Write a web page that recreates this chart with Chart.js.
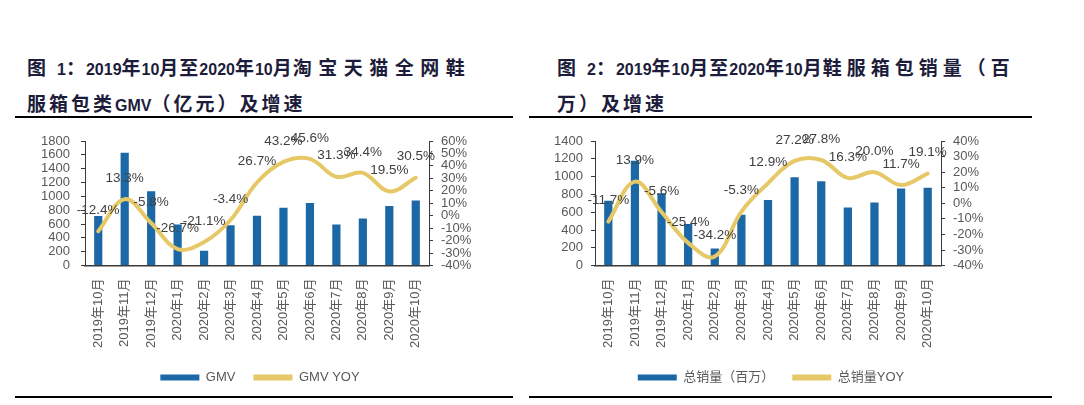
<!DOCTYPE html>
<html>
<head>
<meta charset="utf-8">
<script src="https://cdn.jsdelivr.net/npm/chart.js@4/dist/chart.umd.min.js"></script>
<style>
  html, body { margin:0; padding:0; background:#fff; }
  body { width:1084px; height:405px; position:relative; overflow:hidden; }
  .title { position:absolute; font-family:'Liberation Sans','Noto Sans CJK SC',sans-serif; font-weight:bold; font-size:16px; line-height:33px; color:#1d1d3b; white-space:nowrap; }
  .title .c { font-family:'Noto Sans CJK SC',sans-serif; font-size:19px; letter-spacing:3px; }
  .title .h { letter-spacing:1px; }
  .title .g { display:inline-block; width:10px; }
  .rule { position:absolute; height:1.5px; background:#000; }
  canvas { position:absolute; }
</style>
</head>
<body>
<div class="title" style="left:27px; top:50px;">
  <div><span class="c h">图</span><span class="g"></span>1<span class="c h">：</span>2019<span class="c h">年</span>10<span class="c h">月至</span>2020<span class="c h">年</span>10<span class="c h">月</span><span class="c" style="letter-spacing:6.5px;">淘宝天猫全网鞋</span></div>
  <div><span class="c">服箱包类</span>GMV<span class="c">（亿元）及增速</span></div>
</div>
<div class="title" style="left:557px; top:50px;">
  <div><span class="c h">图</span><span class="g"></span>2<span class="c h">：</span>2019<span class="c h">年</span>10<span class="c h">月至</span>2020<span class="c h">年</span>10<span class="c h">月</span><span class="c" style="letter-spacing:5px;">鞋服箱包销量（百</span></div>
  <div><span class="c">万）及增速</span></div>
</div>
<div class="rule" style="left:15px; width:498px; top:116px;"></div>
<div class="rule" style="left:529px; width:503px; top:116px;"></div>
<div class="rule" style="left:15px; width:498px; top:396px;"></div>
<div class="rule" style="left:529px; width:523px; top:396px;"></div>

<canvas id="c1" style="left:0px; top:120px;" width="520" height="274"></canvas>
<canvas id="c2" style="left:540px; top:120px;" width="462" height="274"></canvas>

<script>
const categories = ['2019年10月','2019年11月','2019年12月','2020年1月','2020年2月','2020年3月','2020年4月','2020年5月','2020年6月','2020年7月','2020年8月','2020年9月','2020年10月'];
const gmv = [715,1630,1075,594,214,584,720,837,905,594,681,861,939];
const gmvYoy = [-12.4,13.3,-5.8,-26.7,-21.1,-3.4,26.7,43.2,45.6,31.3,34.4,19.5,30.5];
const sales = [729,1178,813,468,192,572,737,994,948,652,710,867,875];
const salesYoy = [-11.7,13.9,-5.6,-25.4,-34.2,-5.3,12.9,27.2,27.8,16.3,20.0,11.7,19.1];
const gmvAxis = [0, 1800, 200];
const gmvYoyAxis = [-40, 60, 10];
const salesAxis = [0, 1400, 200];
const salesYoyAxis = [-40, 40, 10];
const legend1 = ['GMV', 'GMV YOY'];
const legend2 = ['总销量（百万）', '总销量YOY'];

const BAR = '#1C68A6', LINE = '#E6C867', TXT = '#595959', AX = '#3a3a3a';
const FAM = "'Liberation Sans','Noto Sans CJK SC',sans-serif";

const labelPlugin = {
  id: 'yoyLabels',
  afterDatasetsDraw(chart) {
    const ctx = chart.ctx;
    const meta = chart.getDatasetMeta(1);
    const data = chart.data.datasets[1].data;
    ctx.save();
    ctx.font = '13.5px ' + FAM;
    ctx.fillStyle = '#404040';
    ctx.textAlign = 'center';
    ctx.textBaseline = 'middle';
    meta.data.forEach((pt, i) => {
      ctx.fillText(data[i].toFixed(1) + '%', pt.x, pt.y - 21);
    });
    ctx.restore();
  }
};

function makeChart(id, bars, yoy, barAx, yoyAx, names, wl, wr, padL) {
  new Chart(document.getElementById(id), {
    data: {
      labels: categories,
      datasets: [
        { type:'bar', label:names[0], data:bars, backgroundColor:BAR, yAxisID:'y', order:1,
          barPercentage:0.31, categoryPercentage:1 },
        { type:'line', label:names[1], data:yoy, borderColor:LINE, backgroundColor:LINE, borderWidth:4,
          pointRadius:0, tension:0.38, yAxisID:'y1', order:0, borderCapStyle:'round' }
      ]
    },
    options: {
      responsive:false, animation:false,
      layout:{ padding:{ top:21, left:0, right:0, bottom:0 } },
      plugins:{
        tooltip:{ enabled:false },
        legend:{
          position:'bottom',
          labels:{
            boxWidth:39, boxHeight:6, padding:18, color:TXT,
            font:{ family:FAM, size:13 },
            generateLabels(chart){
              return chart.data.datasets.map((d, i) => ({
                text:d.label, fillStyle:d.type==='bar'?BAR:LINE, strokeStyle:d.type==='bar'?BAR:LINE,
                lineWidth:0, hidden:false, datasetIndex:i, fontColor:TXT
              }));
            }
          }
        }
      },
      scales:{
        x:{
          grid:{ display:false, drawTicks:false },
          border:{ display:true, color:AX, width:1.5 },
          ticks:{ color:TXT, font:{ family:FAM, size:13 }, minRotation:90, maxRotation:90, padding:13, autoSkip:false },
          afterFit(s){ s.height = 87.4; }
        },
        y:{
          position:'left', min:barAx[0], max:barAx[1],
          ticks:{ stepSize:barAx[2], autoSkip:false, color:TXT, font:{ family:FAM, size:13 }, padding:padL, callback:v => String(v) },
          grid:{ drawOnChartArea:false, drawTicks:true, tickLength:4, color:AX },
          border:{ display:true, color:AX, width:1 },
          afterFit(s){ s.width = wl; }
        },
        y1:{
          position:'right', min:yoyAx[0], max:yoyAx[1],
          ticks:{ stepSize:yoyAx[2], autoSkip:false, color:TXT, font:{ family:FAM, size:13 }, padding:8, callback:v => v + '%' },
          grid:{ drawOnChartArea:false, drawTicks:true, tickLength:4, color:AX },
          border:{ display:true, color:AX, width:1 },
          afterFit(s){ s.width = wr; }
        }
      }
    },
    plugins:[labelPlugin]
  });
}

makeChart('c1', gmv, gmvYoy, gmvAxis, gmvYoyAxis, legend1, 85, 91, 11);
makeChart('c2', sales, salesYoy, salesAxis, salesYoyAxis, legend2, 55, 61, 8);
</script>
</body>
</html>
